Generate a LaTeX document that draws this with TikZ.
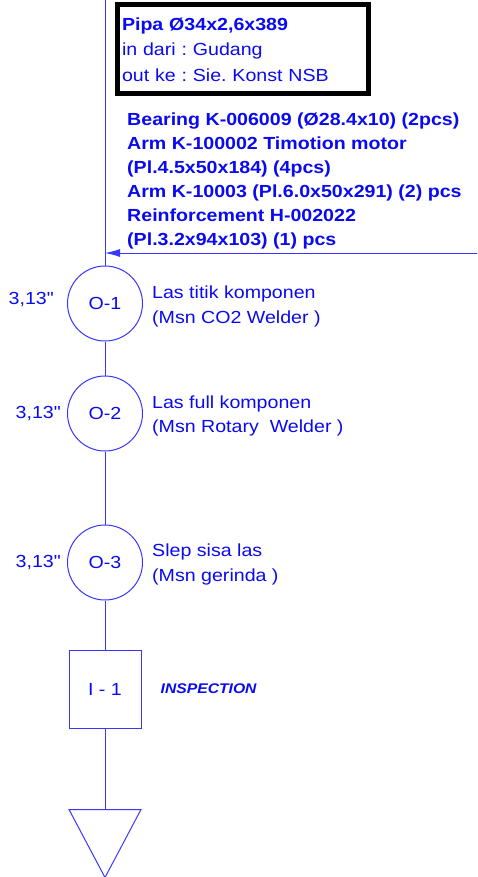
\documentclass[tikz,border=0pt]{standalone}
\usepackage{fontspec}
\setmainfont{Liberation Sans}[FakeStretch=1.12]
\newfontfamily\qfont{Liberation Sans}[FakeStretch=1.12]
\usetikzlibrary{positioning,arrows.meta}
\definecolor{flowline}{RGB}{55,55,255}
\definecolor{flowtext}{RGB}{10,10,240}
\newcommand{\lbl}{\fontsize{17.5}{24.5}\selectfont}
\newcommand{\dur}{{\qfont 3,13"}}
\frenchspacing

\begin{document}
\begin{tikzpicture}[x=1pt, y=1pt,
	every node/.style={text=flowtext, inner sep=0pt, font=\lbl},
	flow/.style={draw=flowline, line width=1pt},
	op/.style={flow, circle, minimum size=75pt},
	insp/.style={flow, minimum width=72pt, minimum height=78pt}]
	\useasboundingbox (0,0) rectangle (477,-877);
	
	\node[op] (o1) at (105,-303.5) {O-1};
	\node[op, below=34pt of o1] (o2) {O-2};
	\node[op, below=73pt of o2] (o3) {O-3};
	\node[insp, below=49pt of o3] (i1) {I - 1};
	\coordinate[below=81pt of i1] (store);
	
	\coordinate (top) at (105,0);
	\coordinate (feed) at (105,-253);
	\coordinate (src) at (477,-253);
	
	\node[left=13pt of o1, yshift=4pt] (t1) {\dur};
	\node[left=6pt of o2] (t2) {\dur};
	\node[left=6pt of o3] (t3) {\dur};
	
	\node[right=9pt of o1, yshift=-3pt, align=left] (d1) {Las titik komponen\\(Msn CO2 Welder )};
	\node[right=9pt of o2, yshift=-2.5pt, align=left] (d2) {Las full komponen\\(Msn Rotary~ Welder )};
	\node[right=9pt of o3, yshift=-2pt, align=left] (d3) {Slep sisa las\\(Msn gerinda )};
	\node[right=19pt of i1, font=\fontsize{14}{16}\bfseries\itshape\selectfont] (d4) {INSPECTION};
	
	% material masuk
	\node[draw=black, line width=5pt, minimum width=250.5pt, minimum height=89.5pt, text width=241.5pt, align=left, font=\fontsize{17.5}{25.5}\selectfont] (pipa) at (242.75,-49.25) {\textbf{Pipa Ø34x2,6x389}\\in dari : Gudang\\out ke : Sie. Konst NSB};
	\node[anchor=west, align=left, font=\fontsize{17.5}{24}\bfseries\selectfont] (parts) at (127,-181) {Bearing K-006009 (Ø28.4x10) (2pcs)\\Arm K-100002 Timotion motor\\(Pl.4.5x50x184) (4pcs)\\Arm K-10003 (Pl.6.0x50x291) (2) pcs\\Reinforcement H-002022\\(Pl.3.2x94x103) (1) pcs};
	
	\draw[flow] (top) -- (o1);
	\draw[flow, -{Latex[length=15pt,width=8pt]}] (src) -- (feed);
	\draw[flow] (o1) -- (o2);
	\draw[flow] (o2) -- (o3);
	\draw[flow] (o3) -- (i1);
	\draw[flow] (i1) -- (store);
	\draw[flow] (store) -- ++(-36,0) -- ++(36,-68) -- ++(36,68) -- cycle;
\end{tikzpicture}
\end{document}
